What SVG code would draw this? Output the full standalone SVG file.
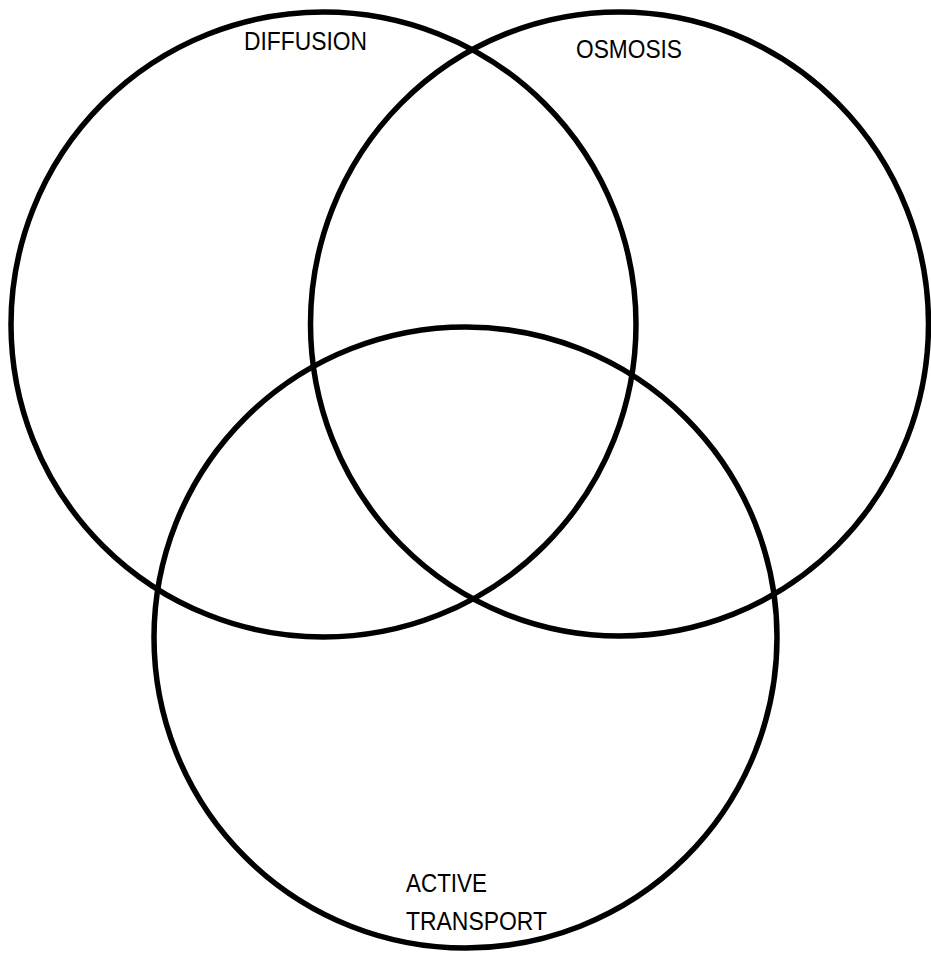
<svg xmlns="http://www.w3.org/2000/svg" width="931" height="956" viewBox="0 0 931 956">
<style>
.c{fill:none;stroke:#000;stroke-width:5.5}
.t{font-family:"Liberation Sans",Arial,sans-serif;font-size:25px;fill:#000}
</style>
<rect width="931" height="956" fill="#fff"/>
<g id="diffusion"><ellipse class="c" cx="323.5" cy="324.5" rx="312.5" ry="312.5"/><text class="t" x="244" y="50" textLength="123" lengthAdjust="spacingAndGlyphs">DIFFUSION</text></g>
<g id="osmosis"><ellipse class="c" cx="619.5" cy="324" rx="309" ry="312"/><text class="t" x="576" y="58" textLength="106" lengthAdjust="spacingAndGlyphs">OSMOSIS</text></g>
<g id="active"><ellipse class="c" cx="465.5" cy="637.5" rx="311.5" ry="310.5"/><text class="t" x="406" y="892" textLength="81" lengthAdjust="spacingAndGlyphs">ACTIVE</text><text class="t" x="406" y="930" textLength="141" lengthAdjust="spacingAndGlyphs">TRANSPORT</text></g>
<g id="connectors"></g>
</svg>
